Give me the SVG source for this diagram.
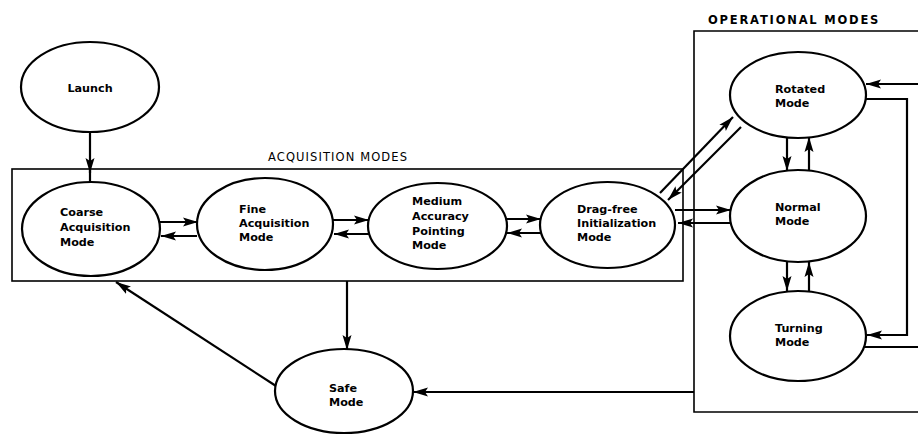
<svg xmlns="http://www.w3.org/2000/svg" width="918" height="436" viewBox="0 0 918 436">
<style>
.n{fill:#fff;stroke:#000;stroke-width:2.2}
.t{font-family:"DejaVu Sans","Liberation Sans",sans-serif;font-size:11.2px;font-weight:bold;fill:#000}
.h{font-family:"DejaVu Sans","Liberation Sans",sans-serif;font-size:11.5px;fill:#000}
.b{fill:none;stroke:#000;stroke-width:1.6}
.c{fill:none;stroke:#000;stroke-width:2.2}
</style>
<defs>
<marker id="a" markerUnits="userSpaceOnUse" markerWidth="16" markerHeight="10" refX="15" refY="5" orient="auto">
<path d="M0,0.5 L15,5 L0,9.5 L3,5 z" fill="#000"/>
</marker>
</defs>
<g id="boxes">
<rect class="b" x="12" y="169" width="671" height="112"/>
<path class="b" d="M918,31 H694 V412 H918"/>
<text class="h" x="268" y="161" letter-spacing="1.1">ACQUISITION MODES</text>
<text class="h" x="708" y="24" font-weight="bold" letter-spacing="1.8">OPERATIONAL MODES</text>
</g>
<g id="connectors">
<line class="c" x1="90" y1="132" x2="90" y2="173" marker-end="url(#a)"/>
<line class="c" x1="90" y1="170" x2="90" y2="182"/>
<line class="c" x1="160" y1="222" x2="198" y2="222" marker-end="url(#a)"/>
<line class="c" x1="197" y1="236" x2="161" y2="236" marker-end="url(#a)"/>
<line class="c" x1="333" y1="220" x2="369" y2="220" marker-end="url(#a)"/>
<line class="c" x1="369" y1="234" x2="334" y2="234" marker-end="url(#a)"/>
<line class="c" x1="506" y1="219" x2="541" y2="219" marker-end="url(#a)"/>
<line class="c" x1="541" y1="233" x2="507" y2="233" marker-end="url(#a)"/>
<line class="c" x1="675" y1="210" x2="731" y2="210" marker-end="url(#a)"/>
<line class="c" x1="731" y1="223" x2="678" y2="223" marker-end="url(#a)"/>
<line class="c" x1="660" y1="193" x2="733" y2="117" marker-end="url(#a)"/>
<line class="c" x1="741" y1="127" x2="668" y2="200" marker-end="url(#a)"/>
<line class="c" x1="787" y1="137" x2="787" y2="171" marker-end="url(#a)"/>
<line class="c" x1="809" y1="170" x2="809" y2="137" marker-end="url(#a)"/>
<line class="c" x1="787" y1="262" x2="787" y2="291" marker-end="url(#a)"/>
<line class="c" x1="809" y1="291" x2="809" y2="262" marker-end="url(#a)"/>
<line class="c" x1="918" y1="84" x2="866" y2="84" marker-end="url(#a)"/>
<polyline class="c" points="860,99 907,99 907,335 867,335" marker-end="url(#a)"/>
<line class="c" x1="862" y1="347" x2="918" y2="347"/>
<line class="c" x1="347" y1="281" x2="347" y2="350" marker-end="url(#a)"/>
<line class="c" x1="694" y1="392" x2="413" y2="392" marker-end="url(#a)"/>
<line class="c" x1="276" y1="386" x2="116" y2="282" marker-end="url(#a)"/>
</g>
<g id="launch"><ellipse class="n" cx="90" cy="87" rx="69" ry="45"/><text class="t" x="90" y="92" text-anchor="middle">Launch</text></g>
<g id="coarse"><ellipse class="n" cx="91" cy="229" rx="69" ry="47"/><text class="t" x="60" y="216">Coarse</text><text class="t" x="60" y="231">Acquisition</text><text class="t" x="60" y="246">Mode</text></g>
<g id="fine"><ellipse class="n" cx="265" cy="224" rx="68" ry="46"/><text class="t" x="239" y="213">Fine</text><text class="t" x="239" y="227">Acquisition</text><text class="t" x="239" y="241">Mode</text></g>
<g id="medium"><ellipse class="n" cx="437.5" cy="226" rx="69.5" ry="43"/><text class="t" x="412" y="205">Medium</text><text class="t" x="412" y="220">Accuracy</text><text class="t" x="412" y="235">Pointing</text><text class="t" x="412" y="249">Mode</text></g>
<g id="dragfree"><ellipse class="n" cx="607.5" cy="225" rx="67.5" ry="43"/><text class="t" x="577" y="213">Drag-free</text><text class="t" x="577" y="227">Initialization</text><text class="t" x="577" y="241">Mode</text></g>
<g id="rotated"><ellipse class="n" cx="798" cy="95" rx="68" ry="43"/><text class="t" x="775" y="93">Rotated</text><text class="t" x="775" y="107">Mode</text></g>
<g id="normal"><ellipse class="n" cx="798" cy="216" rx="68" ry="46"/><text class="t" x="775" y="211">Normal</text><text class="t" x="775" y="225">Mode</text></g>
<g id="turning"><ellipse class="n" cx="798" cy="336" rx="68" ry="45"/><text class="t" x="775" y="332">Turning</text><text class="t" x="775" y="346">Mode</text></g>
<g id="safe"><ellipse class="n" cx="344" cy="391" rx="69" ry="42"/><text class="t" x="329" y="392">Safe</text><text class="t" x="329" y="406">Mode</text></g>
</svg>
